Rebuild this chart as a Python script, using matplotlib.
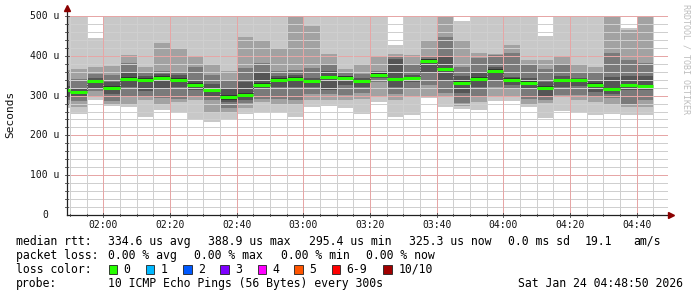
import matplotlib.pyplot as plt
from matplotlib.patches import Rectangle

W, H = 697, 297

# 5 minute bins, value is the bin end in minutes after midnight
# (the first bin is cut off by the left edge of the window)
bin_end = list(range(110, 290, 5))
x_left, x_right = 109.0, 289.4

# sorted pings per bin (microseconds), p01 = fastest ... p10 = slowest
p01 = [268, 255, 289, 273, 271, 247, 264, 260, 240, 234, 240, 255, 260, 258, 247, 272, 274, 268,
       254, 285, 247, 251, 294, 271, 266, 264, 286, 287, 271, 243, 262, 260, 251, 254, 251, 251]
p02 = [280, 272, 300, 280, 280, 288, 280, 285, 288, 260, 258, 270, 284, 278, 280, 290, 290, 290,
       292, 299, 290, 297, 300, 297, 275, 284, 300, 300, 280, 282, 297, 290, 285, 276, 272, 272]
p03 = [290, 286, 312, 287, 300, 300, 294, 292, 300, 290, 270, 281, 292, 292, 289, 305, 305, 302,
       307, 335, 305, 320, 327, 306, 282, 296, 321, 318, 292, 289, 302, 302, 297, 293, 279, 289]
p04 = [300, 296, 320, 303, 322, 312, 319, 322, 313, 300, 283, 290, 316, 321, 321, 322, 315, 327,
       321, 343, 321, 335, 356, 336, 307, 321, 340, 327, 320, 300, 321, 325, 310, 304, 314, 315]
p05 = [308, 303, 332, 314, 336, 334, 340, 333, 322, 310, 290, 297, 322, 334, 337, 333, 342, 340,
       332, 349, 338, 340, 385, 363, 328, 338, 358, 336, 328, 316, 336, 334, 323, 313, 322, 320]
median = [313, 308, 337, 320, 342, 339, 345, 339, 327, 314, 296, 301, 327, 339, 342, 337, 346, 344,
          337, 353, 341, 344, 388, 367, 332, 342, 362, 339, 332, 319, 339, 338, 327, 316, 326, 323]
p06 = [318, 312, 340, 325, 347, 343, 349, 344, 332, 318, 302, 306, 332, 343, 346, 340, 350, 348,
       340, 356, 345, 347, 391, 370, 336, 346, 366, 343, 336, 323, 342, 341, 331, 320, 330, 327]
p07 = [325, 318, 345, 333, 357, 349, 355, 352, 340, 330, 320, 333, 357, 350, 352, 345, 362, 350,
       345, 358, 392, 352, 393, 396, 350, 360, 372, 347, 345, 335, 350, 345, 340, 347, 349, 349]
p08 = [340, 342, 355, 352, 381, 360, 363, 360, 372, 352, 337, 369, 383, 362, 364, 370, 377, 356,
       354, 363, 397, 380, 397, 448, 373, 394, 403, 408, 376, 366, 379, 357, 357, 408, 390, 381]
p09 = [365, 368, 373, 375, 401, 373, 431, 416, 398, 379, 362, 446, 440, 419, 510, 475, 404, 366,
       377, 400, 404, 403, 439, 510, 440, 408, 405, 427, 390, 390, 396, 379, 372, 510, 465, 510]
p10 = [520, 520, 445, 520, 520, 520, 520, 520, 520, 520, 520, 520, 520, 520, 530, 520, 520, 520,
       520, 520, 427, 520, 520, 530, 488, 520, 520, 520, 520, 450, 520, 520, 520, 530, 470, 530]

smoke = ['#c8c8c8', '#a2a2a2', '#7a7a7a', '#555555', '#323232']
median_green = '#26ff00'

loss_labels = ['0', '1', '2', '3', '4', '5', '6-9', '10/10']
loss_colors = ['#26ff00', '#00b8ff', '#0059ff', '#7e00ff', '#ff00ff', '#ff5500', '#ff0000', '#a10000']

stat_line = ['334.6 us avg', '388.9 us max', '295.4 us min', '325.3 us now', '0.0 ms sd', '19.1', 'am/s']
loss_line = ['0.00 % avg', '0.00 % max', '0.00 % min', '0.00 % now']

MONO = 'DejaVu Sans Mono'


def fx(x):
    return x / W


def fy(y):
    return 1 - y / H


fig = plt.figure(figsize=(W / 100, H / 100), dpi=100)
fig.patch.set_facecolor('white')
ax = fig.add_axes([fx(66.7), fy(215), (668 - 66.7) / W, 199 / H])
ax.set_xlim(x_left, x_right)
ax.set_ylim(0, 500)
for s in ax.spines.values():
    s.set_visible(False)
ax.set_xticks([])
ax.set_yticks([])

bin_start = [x_left] + bin_end[:-1]
widths = [e - s for s, e in zip(bin_start, bin_end)]

# smoke: nested ranges, lighter outside, darker toward the median
layers = [(p01, p10), (p02, p09), (p03, p08), (p04, p07), (p05, p06)]
for (lo, hi), col in zip(layers, smoke):
    heights = [h - l for l, h in zip(lo, hi)]
    ax.bar(bin_start, heights, width=widths, bottom=lo, align='edge',
           color=col, linewidth=0, zorder=1)

# grid, drawn over the smoke like rrdtool does
dots = (0, (1, 1))
minor_col, major_col = '#cfcfcf', '#e6a6a6'
for v in range(20, 500, 20):
    if v % 100:
        ax.axhline(v, color=minor_col, lw=0.72, ls=dots, zorder=2, antialiased=False)
for v in range(100, 501, 100):
    ax.axhline(v, color=major_col, lw=0.72, ls=dots, zorder=2, antialiased=False)
for m in range(110, 290, 5):
    if m % 20:
        ax.axvline(m, color=minor_col, lw=0.72, ls=dots, zorder=2, antialiased=False)
for m in range(120, 290, 20):
    ax.axvline(m, color=major_col, lw=0.72, ls=dots, zorder=2, antialiased=False)

# median, with dotted connectors between bins
for i in range(len(bin_end) - 1):
    lo, hi = sorted((median[i], median[i + 1]))
    ax.vlines(bin_end[i], lo, hi, color='#202020', lw=0.6, ls=dots, zorder=3)
ax.hlines(median, bin_start, bin_end, color=median_green, lw=2.2, zorder=4)

# axes with arrows
ax.plot([x_left, x_left], [0, 516], color='#202020', lw=0.9, clip_on=False, zorder=5)
ax.plot([x_left, x_right + 0.6], [0, 0], color='#202020', lw=0.9, clip_on=False, zorder=5)
ax.plot([x_left], [519], marker='^', ms=4, color='#8b0000', clip_on=False, zorder=6)
ax.plot([x_right + 1.0], [0], marker='>', ms=4, color='#8b0000', clip_on=False, zorder=6)

# small tick marks
for v in range(20, 501, 20):
    ln = 2 if v % 100 == 0 else 1.2
    ax.plot([x_left - ln / 3.333, x_left + ln / 3.333], [v, v], color='#404040', lw=0.6,
            clip_on=False, zorder=5)
for m in range(110, 290, 5):
    ln = 2 if m % 20 == 0 else 1.2
    ax.plot([m, m], [-ln * 2.5, ln * 2.5], color='#404040', lw=0.6, clip_on=False, zorder=5)

# tick labels
for m in range(120, 290, 20):
    ax.text(m, -25, f'{m // 60:02d}:{m % 60:02d}', ha='center', va='center',
            family=MONO, fontsize=7, color='#111111', clip_on=False)
for v in range(100, 501, 100):
    fig.text(fx(59.5), fy(215 - v * 0.398), f'{v} u', ha='right', va='center',
             family=MONO, fontsize=7, color='#111111')
fig.text(fx(47.8), fy(215), '0', ha='right', va='center', family=MONO, fontsize=7, color='#111111')

fig.text(fx(10.5), fy(114), 'Seconds', rotation=90, ha='center', va='center',
         family=MONO, fontsize=8, color='#111111')
fig.text(fx(686), fy(4), 'RRDTOOL / TOBI OETIKER', rotation=270, ha='center', va='top',
         family=MONO, fontsize=6, color='#bdbdbd')

# legend block
fs = 8.3
row = [241.5, 255.5, 269.5, 283.5]
fig.text(fx(16), fy(row[0]), 'median rtt:', family=MONO, fontsize=fs, va='center')
for x, t in zip([107.7, 208.2, 308.8, 409.3, 507.5, 584.5, 633.6], stat_line):
    fig.text(fx(x), fy(row[0]), t, family=MONO, fontsize=fs, va='center')
fig.text(fx(16), fy(row[1]), 'packet loss:', family=MONO, fontsize=fs, va='center')
for x, t in zip([107.7, 194.4, 280.6, 366.4], loss_line):
    fig.text(fx(x), fy(row[1]), t, family=MONO, fontsize=fs, va='center')
fig.text(fx(16), fy(row[2]), 'loss color:', family=MONO, fontsize=fs, va='center')
box_x = [108.6, 145.9, 183.2, 220.4, 257.6, 294.4, 331.5, 383.4]
for x, lab, col in zip(box_x, loss_labels, loss_colors):
    fig.patches.append(Rectangle((fx(x), fy(row[2] + 4.5)), 8.5 / W, 9 / H, transform=fig.transFigure,
                                 facecolor=col, edgecolor='#202020', lw=0.6))
    fig.text(fx(x + 15), fy(row[2]), lab, family=MONO, fontsize=fs, va='center')
fig.text(fx(16), fy(row[3]), 'probe:', family=MONO, fontsize=fs, va='center')
fig.text(fx(107.7), fy(row[3]), '10 ICMP Echo Pings (56 Bytes) every 300s', family=MONO,
         fontsize=fs, va='center')
fig.text(fx(683), fy(row[3]), 'Sat Jan 24 04:48:50 2026', family=MONO, fontsize=fs,
         va='center', ha='right')

fig.savefig('out.png', dpi=100)
